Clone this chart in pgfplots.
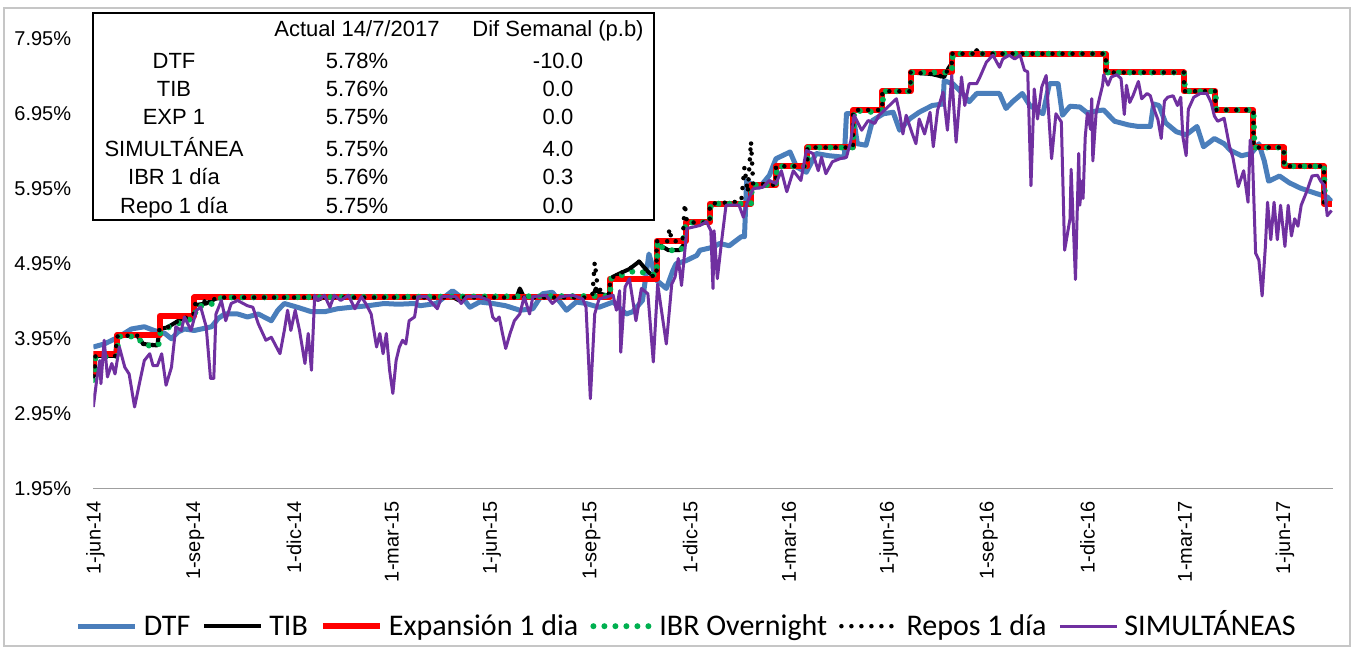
\documentclass[border=0pt]{standalone}
\usepackage{fontspec}
\setmainfont{Liberation Sans}
\newfontfamily\legfont{Carlito}
\usepackage{pgfplots}
\pgfplotsset{compat=1.18}
\definecolor{dtfblue}{RGB}{74,126,187}
\definecolor{simpurple}{RGB}{112,48,160}
\definecolor{ibrgreen}{RGB}{0,176,80}
\begin{document}
\begin{tikzpicture}[x=1bp,y=1bp]
\useasboundingbox (0,0) rectangle (1355,650);
\draw[gray!45, line width=1.5bp] (4,4) rectangle (1350,642);
\begin{axis}[
  at={(86,215)}, anchor=south west, scale only axis,
  width=1239.3bp, height=472.5bp,
  xmin=-2, xmax=1140, ymin=1.95, ymax=8.25,
  axis x line*=bottom, axis y line*=left,
  y axis line style={draw=none},
  x axis line style={draw=gray!75, line width=1.5bp, -},
  major tick length=0pt,
  xtick={0,92,183,273,365,457,548,639,731,823,914,1004,1096},
  xticklabels={1-jun-14,1-sep-14,1-dic-14,1-mar-15,1-jun-15,1-sep-15,1-dic-15,1-mar-16,1-jun-16,1-sep-16,1-dic-16,1-mar-17,1-jun-17},
  ytick={1.95,2.95,3.95,4.95,5.95,6.95,7.95},
  yticklabels={1.95\%,2.95\%,3.95\%,4.95\%,5.95\%,6.95\%,7.95\%},
  x tick label style={rotate=90, anchor=east, inner sep=0pt, font=\fontsize{20bp}{24bp}\selectfont},
  xticklabel shift=12bp,
  y tick label style={anchor=east, inner sep=0pt, font=\fontsize{20bp}{24bp}\selectfont},
  yticklabel shift=22bp,
  legend columns=6,
  legend style={at={(0.478,-0.285)}, anchor=center, draw=none, fill=none,
    font=\legfont\fontsize{30bp}{36bp}\selectfont,
    nodes={inner sep=0pt},
    cells={anchor=base west},
    /tikz/every odd column/.append style={column sep=6bp},
    /tikz/every even column/.append style={column sep=12bp}},
  legend image code/.code={\draw[#1] (0bp,9bp) -- (57bp,9bp);},
  every axis plot/.append style={line join=round},
]
% DTF
\addplot[dtfblue, line width=5bp] coordinates {
(-2,3.84)(8,3.88)(21,3.97)(33,4.08)(45,4.11)(54,4.06)(64,4.02)(70,3.95)(76,4.04)(82,4.08)(91,4.06)(107,4.11)(113,4.22)(119,4.28)(131,4.28)(140,4.24)(150,4.28)(162,4.19)(168,4.33)(174,4.42)(186,4.37)(199,4.31)(211,4.31)(223,4.35)(236,4.37)(251,4.39)(266,4.42)(279,4.41)(294,4.42)(299,4.39)(314,4.42)(329,4.59)(339,4.48)(345,4.37)(354,4.44)(366,4.42)(378,4.39)(391,4.33)(403,4.35)(412,4.55)(421,4.57)(434,4.33)(443,4.44)(452,4.42)(464,4.37)(477,4.44)(489,4.28)(495,4.31)(504,4.46)(510,5.08)(517,4.73)(526,4.62)(532,4.86)(535,4.95)(544,4.99)(554,5.06)(557,5.13)(563,5.15)(569,5.17)(575,5.22)(584,5.19)(595,5.31)(598,5.31)(600,6.06)(606,5.99)(612,5.97)(621,6.13)(627,6.35)(640,6.44)(646,6.24)(655,6.17)(664,6.42)(676,6.39)(690,6.37)(692,6.95)(698,6.95)(702,6.55)(710,6.53)(716,6.86)(726,6.95)(735,6.97)(741,6.73)(750,6.88)(759,6.97)(771,7.06)(781,7.08)(782,7.39)(790,7.35)(799,7.22)(805,7.11)(812,7.22)(833,7.22)(839,7.02)(845,7.11)(854,7.22)(861,7.06)(873,6.95)(879,7.35)(887,7.35)(891,6.93)(898,7.05)(907,7.04)(914,6.96)(923,6.99)(929,7.00)(939,6.85)(952,6.80)(961,6.78)(972,6.78)(975,7.08)(980,7.06)(986,6.83)(996,6.71)(1005,6.67)(1015,6.78)(1021,6.51)(1031,6.62)(1040,6.55)(1046,6.46)(1056,6.39)(1065,6.42)(1072,6.55)(1077,6.32)(1081,6.05)(1091,6.12)(1100,6.03)(1110,5.96)(1122,5.90)(1135,5.84)(1139,5.78)
};
\addlegendentry{DTF}
% TIB
\addplot[black, line width=4bp] coordinates {
(-2,3.45)(-1,3.45)(0,3.72)(18,3.72)(20,3.98)(38,4.00)(44,3.88)(57,3.86)(59,4.08)(66,4.10)(80,4.22)(90,4.22)(92,4.40)(102,4.42)(110,4.48)(116,4.50)(200,4.50)(205,4.47)(210,4.50)(330,4.50)(335,4.46)(340,4.50)(388,4.50)(391,4.62)(395,4.50)(458,4.50)(461,4.62)(465,4.55)(474,4.52)(474,4.75)(480,4.80)(492,4.88)(501,4.98)(508,4.86)(514,4.78)(517,4.78)(517,5.25)(522,5.18)(528,5.13)(538,5.13)(543,5.22)(544,5.50)(566,5.50)(566,5.75)(604,5.75)(604,6.00)(627,6.00)(627,6.25)(656,6.25)(656,6.50)(698,6.50)(698,7.00)(725,7.00)(725,7.25)(751,7.25)(751,7.50)(770,7.48)(782,7.44)(786,7.56)(789,7.62)(789,7.75)(810,7.75)(812,7.80)(814,7.75)(931,7.75)(931,7.50)(1003,7.50)(1003,7.25)(1032,7.25)(1032,7.00)(1067,7.00)(1067,6.50)(1095,6.50)(1095,6.25)(1132,6.25)(1132,5.75)(1139,5.76)
};
\addlegendentry{TIB}
% Expansion 1 dia
\addplot[red, line width=6bp] coordinates {
(-2,3.50)(-1,3.50)(-1,3.75)(20,3.75)(20,4.00)(59,4.00)(59,4.25)(91,4.25)(91,4.50)(474,4.50)(474,4.75)(517,4.75)(517,5.25)(544,5.25)(544,5.50)(566,5.50)(566,5.75)(604,5.75)(604,6.00)(627,6.00)(627,6.25)(656,6.25)(656,6.50)(698,6.50)(698,7.00)(725,7.00)(725,7.25)(751,7.25)(751,7.50)(789,7.50)(789,7.75)(931,7.75)(931,7.50)(1003,7.50)(1003,7.25)(1032,7.25)(1032,7.00)(1067,7.00)(1067,6.50)(1095,6.50)(1095,6.25)(1132,6.25)(1132,5.75)(1139,5.75)
};
\addlegendentry{Expansión 1 dia}
% IBR overnight
\addplot[ibrgreen, line width=6bp, line cap=round, dash pattern=on 0bp off 11bp] coordinates {
(-2,3.40)(-1,3.42)(0,3.70)(20,3.72)(21,3.98)(38,3.98)(45,3.86)(58,3.86)(60,4.05)(70,4.12)(85,4.20)(91,4.22)(93,4.38)(106,4.40)(112,4.48)(118,4.50)(474,4.52)(475,4.75)(485,4.80)(498,4.86)(508,4.82)(517,4.80)(518,5.25)(523,5.15)(530,5.13)(540,5.13)(544,5.50)(566,5.50)(567,5.75)(604,5.75)(605,6.00)(627,6.00)(628,6.25)(656,6.25)(657,6.50)(698,6.50)(699,7.00)(712,6.97)(725,7.00)(726,7.25)(751,7.25)(752,7.50)(789,7.50)(790,7.75)(931,7.75)(932,7.50)(1003,7.50)(1004,7.25)(1032,7.25)(1033,7.00)(1067,7.00)(1068,6.50)(1095,6.50)(1096,6.25)(1132,6.25)(1133,5.75)(1139,5.76)
};
\addlegendentry{IBR Overnight}
% Repos 1 dia
\addplot[black, line width=4.5bp, line cap=round, dash pattern=on 0bp off 10bp] coordinates {
(-2,3.45)(-1,3.50)(0,3.72)(18,3.72)(20,3.98)(38,4.00)(44,3.88)(57,3.86)(59,4.08)(66,4.10)(80,4.22)(90,4.25)(92,4.42)(110,4.48)(116,4.50)(455,4.50)(458,4.55)(460,4.97)(462,4.72)(465,4.60)(470,4.55)(474,4.55)(474,4.75)(480,4.80)(492,4.88)(501,4.98)(508,4.86)(514,4.78)(517,4.78)(517,5.25)(527,5.25)(529,5.42)(531,5.25)(541,5.25)(543,5.75)(545,5.50)(566,5.50)(566,5.75)(595,5.78)(598,6.24)(601,5.90)(604,6.58)(606,6.02)(627,6.00)(627,6.25)(656,6.25)(656,6.50)(698,6.50)(698,7.00)(725,7.00)(725,7.25)(751,7.25)(751,7.50)(770,7.48)(782,7.44)(786,7.56)(789,7.62)(789,7.75)(931,7.75)(931,7.50)(1003,7.50)(1003,7.25)(1032,7.25)(1032,7.00)(1067,7.00)(1067,6.50)(1095,6.50)(1095,6.25)(1132,6.25)(1132,5.75)(1139,5.75)
};
\addlegendentry{Repos 1 día}
% Simultaneas
\addplot[simpurple, line width=3bp] coordinates {
(-2,3.04)(1,3.39)(4,3.66)(5,3.35)(8,3.93)(11,3.44)(15,3.62)(18,3.48)(22,3.84)(27,3.57)(31,3.48)(36,3.04)(41,3.39)(45,3.66)(50,3.75)(53,3.59)(57,3.59)(61,3.75)(65,3.33)(70,3.57)(74,4.11)(79,4.06)(82,4.24)(88,4.06)(93,4.33)(97,4.37)(102,4.11)(106,3.42)(109,3.42)(111,4.28)(116,4.46)(120,4.19)(125,4.42)(131,4.46)(140,4.39)(145,4.37)(150,4.15)(157,3.93)(162,3.97)(170,3.75)(174,4.06)(177,4.33)(180,4.06)(184,4.33)(188,4.06)(193,3.62)(196,4.02)(199,3.53)(202,4.53)(205,4.46)(211,4.53)(216,4.37)(220,4.53)(226,4.46)(233,4.53)(239,4.35)(245,4.51)(249,4.42)(254,4.28)(259,3.84)(262,4.02)(265,3.75)(268,4.02)(271,3.53)(274,3.22)(277,3.66)(280,3.84)(283,3.93)(286,3.88)(289,4.19)(294,4.24)(297,4.51)(305,4.51)(315,4.35)(319,4.51)(332,4.51)(337,4.42)(342,4.51)(354,4.51)(363,4.46)(366,4.24)(369,4.19)(372,4.24)(375,4.02)(378,3.82)(382,4.02)(386,4.19)(391,4.28)(395,4.51)(400,4.28)(403,4.51)(415,4.53)(421,4.42)(428,4.51)(440,4.53)(449,4.48)(452,4.37)(456,3.15)(460,4.28)(464,4.48)(471,4.51)(477,4.53)(480,4.33)(483,4.59)(484,3.77)(488,4.64)(492,4.75)(498,4.19)(503,4.62)(509,4.55)(514,3.64)(518,4.68)(526,3.88)(531,4.68)(534,4.77)(537,5.02)(540,4.66)(545,5.42)(557,5.46)(563,5.51)(567,5.39)(569,4.62)(570,5.39)(573,4.75)(577,5.26)(581,5.73)(593,5.73)(597,5.57)(600,5.75)(606,5.95)(615,5.97)(621,6.06)(627,6.02)(632,6.19)(637,5.91)(643,6.19)(650,6.06)(655,6.46)(661,6.42)(666,6.19)(669,6.37)(673,6.15)(679,6.31)(686,6.35)(692,6.37)(696,6.59)(699,6.93)(706,6.73)(712,6.86)(718,6.82)(722,6.93)(733,7.08)(738,7.15)(741,6.95)(744,6.68)(747,6.93)(752,6.71)(756,6.55)(759,6.88)(764,6.68)(769,6.97)(772,6.51)(776,7.00)(781,7.24)(785,6.73)(789,7.46)(793,6.57)(798,7.44)(801,7.06)(805,7.35)(812,7.35)(815,7.44)(821,7.64)(827,7.73)(833,7.57)(836,7.68)(842,7.73)(847,7.68)(852,7.73)(856,7.53)(859,7.51)(862,5.99)(865,7.28)(868,6.88)(872,7.31)(876,7.46)(881,6.35)(885,6.95)(890,6.84)(893,5.13)(898,5.55)(899,6.21)(903,4.74)(906,6.42)(907,5.73)(909,6.05)(910,5.82)(912,6.64)(914,6.96)(917,6.74)(918,7.15)(919,6.32)(922,6.96)(925,7.15)(928,7.33)(929,7.47)(933,7.33)(936,7.44)(941,7.47)(945,7.42)(948,6.94)(950,7.33)(953,7.10)(956,7.19)(961,7.38)(964,7.15)(969,7.22)(972,7.19)(975,7.03)(979,6.87)(982,6.62)(985,7.12)(988,7.17)(993,7.19)(997,7.06)(1000,7.17)(1002,6.64)(1005,6.39)(1007,7.01)(1012,7.17)(1018,7.22)(1024,7.22)(1028,7.10)(1031,6.92)(1034,6.85)(1040,6.89)(1045,6.51)(1048,6.37)(1053,5.98)(1058,6.19)(1062,5.77)(1064,6.60)(1066,6.42)(1069,5.09)(1072,5.00)(1075,4.52)(1078,5.18)(1080,5.77)(1083,5.27)(1086,5.77)(1089,5.27)(1092,5.73)(1096,5.18)(1099,5.73)(1102,5.32)(1105,5.55)(1108,5.45)(1111,5.73)(1116,5.91)(1121,6.12)(1126,6.13)(1129,6.05)(1132,6.00)(1135,5.59)(1139,5.66)
};
\addlegendentry{SIMULTÁNEAS}
\end{axis}
% summary table
\draw[black, line width=1.5bp, fill=white] (93,430) rectangle (654,637);
\begin{scope}[every node/.style={anchor=base, inner sep=0pt, font=\fontsize{22bp}{26bp}\selectfont}]
\node at (357,613.3) {Actual 14/7/2017};
\node at (558,613.3) {Dif Semanal (p.b)};
\node at (174,581.7) {DTF};        \node at (357,581.7) {5.78\%}; \node at (558,581.7) {-10.0};
\node at (174,553.3) {TIB};        \node at (357,553.3) {5.76\%}; \node at (558,553.3) {0.0};
\node at (174,525) {EXP 1};        \node at (357,525) {5.75\%};   \node at (558,525) {0.0};
\node at (174,493.3) {SIMULTÁNEA}; \node at (357,493.3) {5.75\%}; \node at (558,493.3) {4.0};
\node at (174,465) {IBR 1 día};    \node at (357,465) {5.76\%};   \node at (558,465) {0.3};
\node at (174,436.7) {Repo 1 día}; \node at (357,436.7) {5.75\%}; \node at (558,436.7) {0.0};
\end{scope}
\end{tikzpicture}
\end{document}
